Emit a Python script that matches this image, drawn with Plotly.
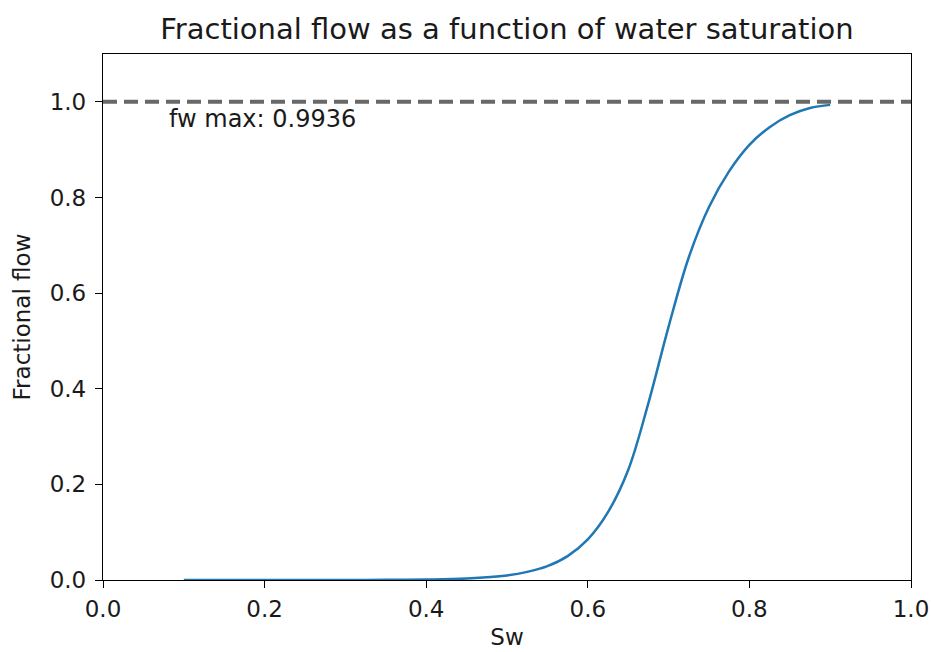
import plotly.graph_objects as go

# Data
sw = [0.10, 0.15, 0.20, 0.25, 0.30, 0.35, 0.40, 0.45, 0.50, 0.525, 0.55, 0.575,
      0.60, 0.625, 0.65, 0.675, 0.70, 0.725, 0.75, 0.775, 0.80, 0.825, 0.85,
      0.875, 0.90]
fw = [0.0000, 0.0000, 0.0000, 0.0000, 0.0001, 0.0003, 0.0010, 0.0032, 0.0095,
      0.0170, 0.0290, 0.0500, 0.0850, 0.1420, 0.2300, 0.3700, 0.5300, 0.6750,
      0.7800, 0.8550, 0.9100, 0.9470, 0.9720, 0.9870, 0.9936]
fw_max = 0.9936
ref_level = 1.0

title_text = "Fractional flow as a function of water saturation"
x_label = "Sw"
y_label = "Fractional flow"
x_ticks = [0.0, 0.2, 0.4, 0.6, 0.8, 1.0]
y_ticks = [0.0, 0.2, 0.4, 0.6, 0.8, 1.0]

FONT = "DejaVu Sans"
TXT = "#1a1a1a"

fig = go.Figure()
fig.add_trace(go.Scatter(
    x=sw, y=fw, mode="lines",
    line=dict(color="#1f77b4", width=2.5, shape="spline", smoothing=1.0),
    showlegend=False, hoverinfo="skip"))
fig.add_trace(go.Scatter(
    x=[0.0, 1.0], y=[ref_level, ref_level], mode="lines",
    line=dict(color="#686868", width=4, dash="14px,7px"),
    showlegend=False, hoverinfo="skip"))

fig.add_annotation(
    x=0.079, y=0.964, xref="x", yref="y", text=f"fw max: {fw_max:.4f}",
    showarrow=False, xanchor="left", yanchor="middle",
    font=dict(family=FONT, size=24, color=TXT))

axis_common = dict(
    showline=True, linecolor="#000000", linewidth=1.3, mirror=True,
    showgrid=False, zeroline=False, ticks="outside", ticklen=7,
    tickwidth=1.3, tickcolor="#000000", automargin=False,
    tickfont=dict(family=FONT, size=23, color=TXT),
    tickformat=".1f")

fig.update_layout(
    width=931, height=652,
    margin=dict(l=103, r=20, t=54, b=72),
    paper_bgcolor="white", plot_bgcolor="white",
    title=dict(text=title_text, x=0.5445, xanchor="center",
               y=1 - 29 / 652, yanchor="middle", yref="container",
               font=dict(family=FONT, size=29, color=TXT)),
    xaxis=dict(range=[0, 1], tickvals=x_ticks, ticklabelstandoff=1,
               title=dict(text=x_label, standoff=8,
                          font=dict(family=FONT, size=23, color=TXT)),
               **axis_common),
    yaxis=dict(range=[0, 1.1], tickvals=y_ticks, ticklabelstandoff=4,
               title=dict(text=y_label, standoff=12,
                          font=dict(family=FONT, size=23, color=TXT)),
               **axis_common),
)

fig.write_html("out.html")
